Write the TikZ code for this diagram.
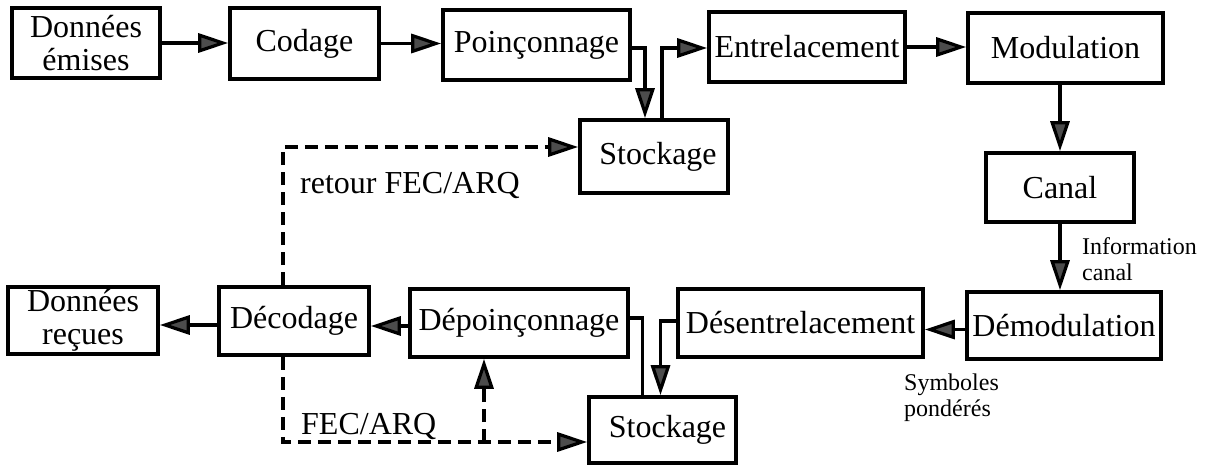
\documentclass[tikz,border=0pt]{standalone}
\usepackage{fontspec}
\setmainfont{Liberation Serif}
\usetikzlibrary{arrows.meta}
\begin{document}
\begin{tikzpicture}[x=1pt,y=-1pt,
  box/.style={draw, line width=3.6pt, inner sep=0pt, align=center,
    font=\fontsize{32}{33}\selectfont},
  lbl/.style={inner sep=0pt, align=left, font=\fontsize{24}{26}\selectfont},
  mtxt/.style={inner sep=0pt, font=\fontsize{32}{33}\selectfont},
  arr/.style={line width=3.2pt, -{Triangle[length=30pt,width=19pt,fill=black!70]}},
  ln/.style={line width=3.2pt},
  darr/.style={arr, dash pattern=on 13pt off 7pt},
  dln/.style={ln, dash pattern=on 13pt off 7pt}]
\useasboundingbox (0,0) rectangle (1208,466);
% top row
\node[box, minimum width=148pt, minimum height=70pt] (de) at (86,43) {Données\\émises};
\node[box, minimum width=149pt, minimum height=71pt] (cod) at (304.5,43.5) {Codage};
\node[box, minimum width=187pt, minimum height=70pt] (poi) at (536.5,45) {Poinçonnage};
\node[box, minimum width=196pt, minimum height=70pt] (ent) at (807,47) {Entrelacement};
\node[box, minimum width=195pt, minimum height=70pt] (mod) at (1065.5,48) {Modulation};
\node[box, minimum width=148pt, minimum height=73pt] (stk1) at (654,156.5) {\hspace*{8pt}Stockage};
\node[box, minimum width=148pt, minimum height=69pt] (can) at (1060,187.5) {Canal};
% bottom row
\node[box, minimum width=194pt, minimum height=67pt] (dem) at (1064,325.5) {Démodulation};
\node[box, minimum width=245pt, minimum height=68pt] (des) at (800.5,323) {Désentrelacement};
\node[box, minimum width=218pt, minimum height=68pt] (dep) at (519,323) {Dépoinçonnage};
\node[box, minimum width=150pt, minimum height=68pt] (dec) at (294,321) {Décodage};
\node[box, minimum width=150pt, minimum height=67pt] (dr) at (83,320.5) {Données\\reçues};
\node[box, minimum width=147pt, minimum height=66pt] (stk2) at (662.5,430) {\hspace*{10pt}Stockage};
% labels
\node[mtxt, anchor=west] (lret) at (300,185) {retour FEC/ARQ};
\node[mtxt, anchor=west] (lfec) at (301,426) {FEC/ARQ};
\node[lbl, anchor=west] (linf) at (1082,259) {Information\\canal};
\node[lbl, anchor=west] (lsym) at (904,398) {Symboles\\pondérés};
% forward chain
\draw[arr] (de.east) -- (de.east -| cod.west);
\draw[arr] (cod.east) -- (cod.east -| poi.west);
\draw[arr] ([yshift=-3pt]poi.east) -| ([xshift=-9pt]stk1.north);
\draw[arr] ([xshift=8pt]stk1.north) |- ([yshift=-1pt]ent.west);
\draw[arr] (ent.east) -- (ent.east -| mod.west);
\draw[arr] (can.north |- mod.south) -- (can.north);
\draw[arr] (can.south) -- (can.south |- dem.north);
\draw[arr] ([yshift=-4pt]dem.west) -- ([yshift=-4pt]dem.west -| des.east);
\draw[arr] ([yshift=2pt]des.west) -| ([xshift=-2pt]stk2.north);
\draw[ln] ([xshift=-20pt]stk2.north) |- ([yshift=5pt]dep.east);
\draw[arr] ([yshift=-3pt]dep.west) -- ([yshift=-3pt]dep.west -| dec.east);
\draw[arr] ([yshift=-4pt]dec.west) -- ([yshift=-4pt]dec.west -| dr.east);
% dashed feedback
\draw[darr] ([xshift=-11pt]dec.north) |- ([yshift=9.5pt]stk1.west);
\coordinate (fb) at ([yshift=-12pt]stk2.west);
\coordinate (br) at ([xshift=-35pt]dep.south);
\draw[darr] ([xshift=-11pt]dec.south) |- (fb);
\draw[darr] (br |- fb) -- (br);
\end{tikzpicture}
\end{document}
